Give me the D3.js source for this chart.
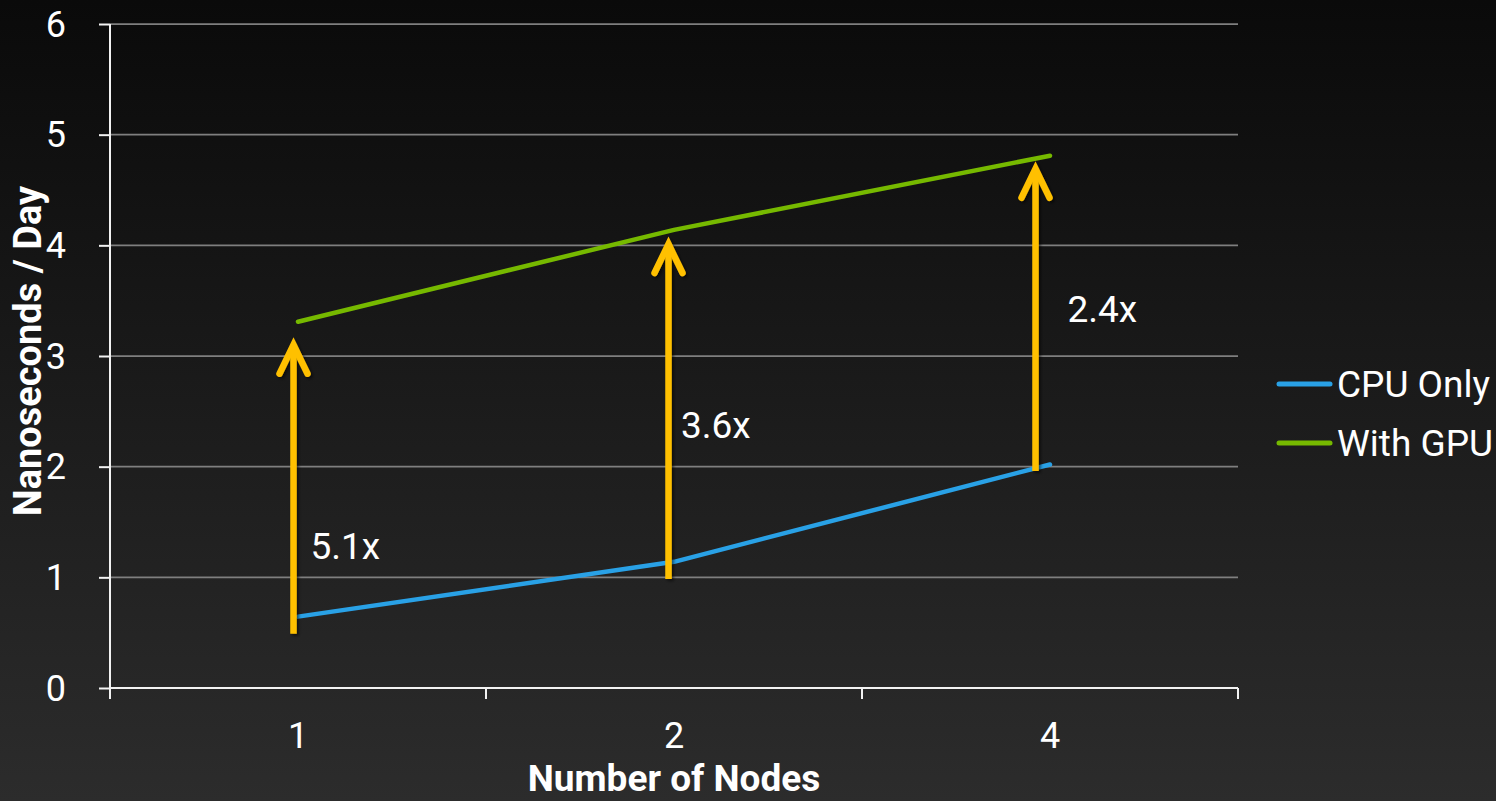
<!DOCTYPE html>
<html>
<head>
<meta charset="utf-8">
<script src="https://cdn.jsdelivr.net/npm/d3@7"></script>
<style>
  html, body { margin: 0; padding: 0; background: #1a1a1a; }
  svg { display: block; font-family: Roboto, "DejaVu Sans", sans-serif; }
</style>
</head>
<body>
<svg id="chart" width="1496" height="801"></svg>
<script>
// Simulation throughput per node count
const categories = ["1", "2", "4"];
const cpuOnly = [0.645, 1.14, 2.02];
const withGpu = [3.31, 4.14, 4.81];
const yTicks = [0, 1, 2, 3, 4, 5, 6];
const seriesNames = ["CPU Only", "With GPU"];

// Speed-up annotations: arrow from/to values and their labels
const speedups = ["5.1x", "3.6x", "2.4x"];
const arrowFrom = [0.49, 0.985, 1.96];
const arrowTo = [3.12, 4.03, 4.71];

// ---- layout ----
const W = 1496, H = 801;
const plot = { left: 110, right: 1238, top: 24, bottom: 688 };
const colors = { cpu: "#29a1e6", gpu: "#76b900", arrow: "#ffc000", grid: "#7f7f7f", axis: "#f2f2f2", text: "#ffffff" };
const arrowNudge = [-4.5, -5.5, -14.5];   // arrows sit just left of the category centre
const labelDx = [17, 12.5, 32];
const labelLevel = [1.17, 2.26, 3.31];     // label baselines, in axis units

const svg = d3.select("#chart");

// background: vertical dark gradient
const defs = svg.append("defs");
const bg = defs.append("linearGradient").attr("id", "bg").attr("x1", 0).attr("y1", 0).attr("x2", 0).attr("y2", 1);
bg.append("stop").attr("offset", "0%").attr("stop-color", "#0a0a0a");
bg.append("stop").attr("offset", "100%").attr("stop-color", "#2c2c2c");
svg.append("rect").attr("width", W).attr("height", H).attr("fill", "url(#bg)");

const shadow = defs.append("filter").attr("id", "shadow").attr("x", "-50%").attr("y", "-10%").attr("width", "200%").attr("height", "120%");
shadow.append("feDropShadow").attr("dx", 2).attr("dy", 2).attr("stdDeviation", 1.5)
  .attr("flood-color", "#000").attr("flood-opacity", 0.55);

// scales
const x = d3.scaleBand().domain(categories).range([plot.left, plot.right]).paddingInner(0).paddingOuter(0);
const y = d3.scaleLinear().domain([0, 6]).range([plot.bottom, plot.top]);
const cx = c => x(c) + x.bandwidth() / 2;

// gridlines
svg.append("g").selectAll("line").data(yTicks.filter(v => v > 0)).join("line")
  .attr("x1", plot.left).attr("x2", plot.right)
  .attr("y1", d => y(d)).attr("y2", d => y(d))
  .attr("stroke", colors.grid).attr("stroke-width", 1.75);

// y axis
const yAxis = svg.append("g").attr("transform", `translate(${plot.left},0)`)
  .call(d3.axisLeft(y).tickValues(yTicks).tickSize(11).tickPadding(33).tickFormat(d3.format("d")));
yAxis.select(".domain").attr("stroke", colors.axis).attr("stroke-width", 2).attr("d", `M0,${plot.top}V${plot.bottom}`);
yAxis.selectAll(".tick line").attr("stroke", colors.axis).attr("stroke-width", 2);
yAxis.selectAll(".tick text").attr("fill", colors.text).attr("font-size", 36)
  .attr("font-family", "Roboto, sans-serif").attr("dy", null).attr("y", 12);

// x axis: line with ticks on category boundaries, labels at centres
const xAxis = svg.append("g").attr("transform", `translate(0,${plot.bottom})`)
  .call(d3.axisBottom(x).tickSize(0).tickPadding(0));
xAxis.select(".domain").attr("stroke", colors.axis).attr("stroke-width", 2).attr("d", `M${plot.left},0H${plot.right}`);
xAxis.selectAll(".tick text").attr("fill", colors.text).attr("font-size", 36)
  .attr("font-family", "Roboto, sans-serif").attr("dy", null).attr("y", 60);
const bounds = categories.map(c => x(c)).concat([plot.right]);
xAxis.selectAll("line.bound").data(bounds).join("line").attr("class", "bound")
  .attr("x1", d => d).attr("x2", d => d).attr("y1", 0).attr("y2", 11)
  .attr("stroke", colors.axis).attr("stroke-width", 2);

// axis titles
svg.append("text").attr("x", (plot.left + plot.right) / 2).attr("y", 791)
  .attr("text-anchor", "middle").attr("fill", colors.text).attr("font-size", 37).attr("font-weight", "bold")
  .text("Number of Nodes");
svg.append("text").attr("transform", `translate(41,351) rotate(-90)`)
  .attr("text-anchor", "middle").attr("fill", colors.text).attr("font-size", 38).attr("font-weight", "bold")
  .text("Nanoseconds / Day");

// series lines
const line = d3.line().x(d => cx(d.c)).y(d => y(d.v));
const series = [
  { name: seriesNames[0], color: colors.cpu, values: cpuOnly },
  { name: seriesNames[1], color: colors.gpu, values: withGpu }
];
svg.append("g").selectAll("path").data(series).join("path")
  .attr("d", s => line(s.values.map((v, i) => ({ c: categories[i], v }))))
  .attr("fill", "none").attr("stroke", s => s.color).attr("stroke-width", 4.5)
  .attr("stroke-linecap", "round").attr("stroke-linejoin", "round");

// speed-up arrows
const arrows = svg.append("g").attr("filter", "url(#shadow)");
categories.forEach((c, i) => {
  const ax = cx(c) + arrowNudge[i];
  const y0 = y(arrowFrom[i]), y1 = y(arrowTo[i]);
  arrows.append("line").attr("x1", ax).attr("x2", ax).attr("y1", y0).attr("y2", y1 + 3)
    .attr("stroke", colors.arrow).attr("stroke-width", 6.5);
  arrows.append("path")
    .attr("d", `M${ax - 14},${y1 + 31}L${ax},${y1 + 2}L${ax + 14},${y1 + 31}`)
    .attr("fill", "none").attr("stroke", colors.arrow).attr("stroke-width", 6.5)
    .attr("stroke-linecap", "round").attr("stroke-linejoin", "miter");
  svg.append("text").attr("x", ax + labelDx[i]).attr("y", y(labelLevel[i]))
    .attr("fill", colors.text).attr("font-size", 37).text(speedups[i]);
});

// legend
const legend = svg.append("g").attr("transform", "translate(1277,384)");
series.forEach((s, i) => {
  const g = legend.append("g").attr("transform", `translate(0,${i * 59})`);
  g.append("line").attr("x1", 2).attr("x2", 53).attr("y1", 0).attr("y2", 0)
    .attr("stroke", s.color).attr("stroke-width", 5).attr("stroke-linecap", "round");
  g.append("text").attr("x", 60).attr("y", 13).attr("fill", colors.text).attr("font-size", 37).text(s.name);
});
</script>
</body>
</html>
